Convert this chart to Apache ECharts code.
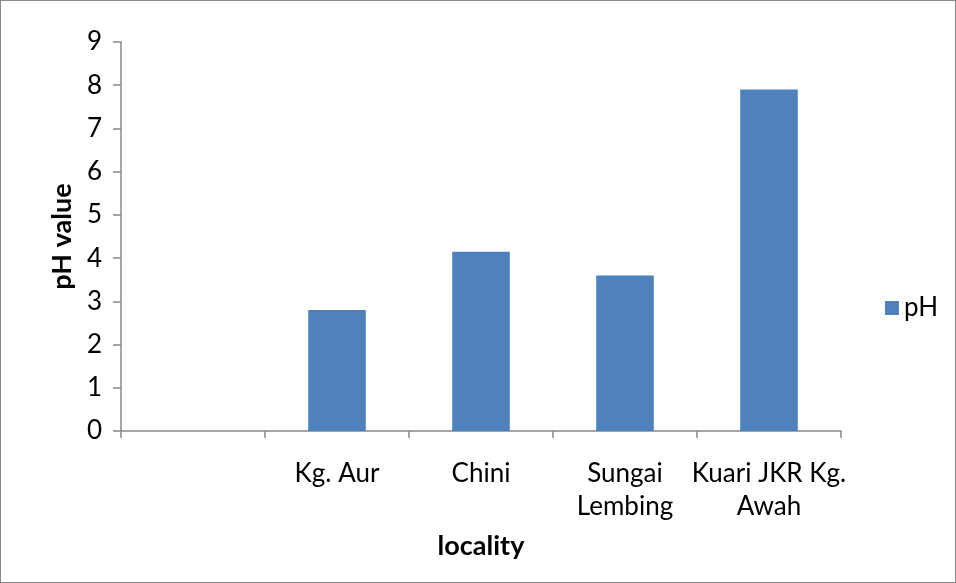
<!DOCTYPE html>
<html>
<head>
<meta charset="utf-8">
<script src="https://cdn.jsdelivr.net/npm/echarts@6/dist/echarts.min.js"></script>
<style>
  html, body { margin: 0; padding: 0; background: #fff; }
  #chart { width: 954px; height: 581px; border: 1px solid #888; }
</style>
</head>
<body>
<div id="chart"></div>
<script>
// 地点与 pH 数据
const localities = ['', 'Kg. Aur', 'Chini', 'Sungai\nLembing', 'Kuari JKR Kg.\nAwah'];
const phValues = [null, 2.8, 4.15, 3.6, 7.9];
const yTicks = [0, 9, 1];

const font = 'Lato, "Open Sans", sans-serif';
const myChart = echarts.init(document.getElementById('chart'));

const option = {
    animation: false,
    textStyle: { fontFamily: font },
    grid: { left: 120, right: 114, top: 41, bottom: 151 },
    legend: {
        data: ['pH'],
        right: 12,
        top: 289,
        orient: 'vertical',
        icon: 'rect',
        itemWidth: 14,
        itemHeight: 14,
        itemGap: 5,
        textStyle: { fontSize: 26, color: '#000', fontFamily: font }
    },
    xAxis: {
        type: 'category',
        data: localities,
        name: 'locality',
        nameLocation: 'middle',
        nameGap: 102,
        nameTextStyle: { fontSize: 27, fontWeight: 'bold', color: '#000', fontFamily: font },
        axisLine: { lineStyle: { color: '#888', width: 1.5 } },
        axisTick: { show: true, length: 7, lineStyle: { color: '#888', width: 1.5 } },
        axisLabel: { interval: 0, margin: 26, fontSize: 26, lineHeight: 33, color: '#000', fontFamily: font }
    },
    yAxis: {
        type: 'value',
        min: yTicks[0],
        max: yTicks[1],
        interval: yTicks[2],
        name: 'pH value',
        nameLocation: 'middle',
        nameGap: 39,
        nameTextStyle: { fontSize: 27, fontWeight: 'bold', color: '#000', fontFamily: font },
        splitLine: { show: false },
        axisLine: { show: true, lineStyle: { color: '#888', width: 1.5 } },
        axisTick: { show: true, length: 8, lineStyle: { color: '#888', width: 1.5 } },
        axisLabel: { margin: 19, fontSize: 26, color: '#000', fontFamily: font }
    },
    series: [{
        name: 'pH',
        type: 'bar',
        data: phValues,
        barWidth: '40%',
        itemStyle: { color: '#4f81bd' }
    }]
};

myChart.setOption(option);
</script>
</body>
</html>
